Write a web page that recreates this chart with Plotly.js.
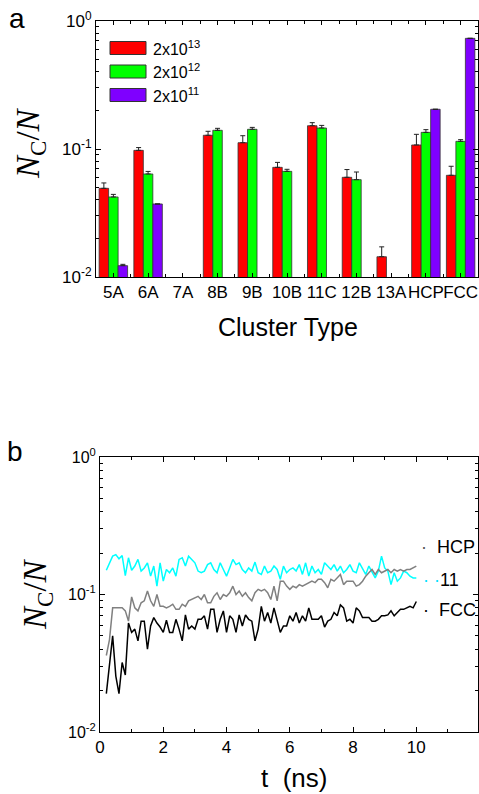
<!DOCTYPE html>
<html>
<head>
<meta charset="utf-8">
<script src="https://cdn.plot.ly/plotly-3.0.1.min.js"></script>
<style>html,body{margin:0;padding:0;background:#fff;}#chart{width:479px;height:794px;}</style>
</head>
<body>
<div id="chart"></div>
<script>
// ---- Panel a data ----
const categories = ["5A","6A","7A","8B","9B","10B","11C","12B","13A","HCP","FCC"];
const seriesNames = ["2x10<sup>13</sup>","2x10<sup>12</sup>","2x10<sup>11</sup>"];
const rate13 = [0.0493, 0.0976, null, 0.128, 0.112, 0.0719, 0.152, 0.0601, 0.0144, 0.1075, 0.0623];
const err13  = [0.0050, 0.0050, null, 0.0095, 0.015, 0.0067, 0.0086, 0.009, 0.0028, 0.0227, 0.011];
const rate12 = [0.0422, 0.0638, null, 0.140, 0.1425, 0.0669, 0.1459, 0.0576, null, 0.1349, 0.1148];
const err12  = [0.0020, 0.0030, null, 0.005, 0.005, 0.0025, 0.007, 0.0085, null, 0.0067, 0.0035];
const rate11 = [0.01226, 0.0372, null, null, null, null, null, null, null, 0.2043, 0.732];
const err11  = [0.0003, 0.0, null, null, null, null, null, null, null, 0.0, 0.0];
const yTickVals = [0.01, 0.1, 1];
const yTickText = ["10<sup>-2</sup>", "10<sup>-1</sup>", "10<sup>0</sup>"];

// ---- Panel b data ----
const tNs = [0.2,0.3,0.4,0.5,0.6,0.7,0.8,0.9,1.0,1.1,1.2,1.3,1.4,1.5,1.6,1.7,1.8,1.9,2.0,2.1,2.2,2.3,2.4,2.5,2.6,2.7,2.8,2.9,3.0,3.1,3.2,3.3,3.4,3.5,3.6,3.7,3.8,3.9,4.0,4.1,4.2,4.3,4.4,4.5,4.6,4.7,4.8,4.9,5.0,5.1,5.2,5.3,5.4,5.5,5.6,5.7,5.8,5.9,6.0,6.1,6.2,6.3,6.4,6.5,6.6,6.7,6.8,6.9,7.0,7.1,7.2,7.3,7.4,7.5,7.6,7.7,7.8,7.9,8.0,8.1,8.2,8.3,8.4,8.5,8.6,8.7,8.8,8.9,9.0,9.1,9.2,9.3,9.4,9.5,9.6,9.7,9.8,9.9,10.0];
const cyanSeries = [0.150,0.170,0.190,0.195,0.182,0.192,0.137,0.185,0.150,0.161,0.180,0.148,0.156,0.170,0.136,0.161,0.115,0.170,0.125,0.152,0.144,0.156,0.136,0.180,0.185,0.161,0.190,0.180,0.170,0.148,0.144,0.148,0.165,0.170,0.152,0.144,0.170,0.152,0.136,0.156,0.180,0.165,0.170,0.152,0.144,0.156,0.148,0.172,0.144,0.140,0.161,0.144,0.148,0.161,0.152,0.129,0.161,0.144,0.152,0.156,0.148,0.165,0.140,0.170,0.136,0.161,0.144,0.152,0.140,0.170,0.161,0.152,0.165,0.148,0.161,0.144,0.152,0.165,0.148,0.144,0.170,0.156,0.140,0.161,0.144,0.132,0.148,0.190,0.156,0.148,0.118,0.144,0.125,0.132,0.148,0.144,0.136,0.132,0.132];
const graySeries = [0.036,0.047,0.080,0.080,0.079,0.080,0.076,0.064,0.096,0.080,0.076,0.087,0.090,0.106,0.090,0.082,0.100,0.082,0.082,0.080,0.082,0.085,0.078,0.078,0.085,0.082,0.090,0.092,0.095,0.097,0.092,0.100,0.087,0.087,0.097,0.103,0.092,0.100,0.097,0.103,0.115,0.100,0.106,0.097,0.103,0.095,0.090,0.103,0.109,0.106,0.109,0.103,0.092,0.115,0.090,0.125,0.125,0.115,0.109,0.115,0.112,0.118,0.115,0.118,0.122,0.125,0.122,0.129,0.129,0.122,0.112,0.129,0.125,0.132,0.140,0.118,0.125,0.125,0.125,0.115,0.118,0.125,0.136,0.144,0.152,0.140,0.152,0.144,0.148,0.152,0.144,0.152,0.148,0.152,0.148,0.152,0.152,0.156,0.161];
const blackSeries = [0.019,0.032,0.050,0.0255,0.019,0.032,0.026,0.062,0.053,0.056,0.046,0.064,0.064,0.040,0.059,0.068,0.062,0.058,0.053,0.065,0.053,0.053,0.066,0.056,0.046,0.071,0.056,0.059,0.056,0.066,0.066,0.070,0.056,0.078,0.078,0.053,0.066,0.076,0.053,0.070,0.066,0.053,0.071,0.059,0.071,0.066,0.064,0.046,0.056,0.082,0.064,0.074,0.062,0.080,0.064,0.053,0.059,0.059,0.070,0.064,0.074,0.062,0.070,0.064,0.080,0.066,0.066,0.066,0.070,0.058,0.064,0.066,0.074,0.070,0.084,0.080,0.064,0.066,0.062,0.080,0.076,0.068,0.068,0.068,0.064,0.064,0.066,0.070,0.070,0.071,0.076,0.070,0.074,0.078,0.078,0.080,0.082,0.080,0.089];
const xTickVals = [0,2,4,6,8,10];
const legendColors = ["#ff0000", "#00ff00", "#7f00ff"];

const FONT = "Arial";
const SERIF = "Liberation Serif";
const minorLog = [];
[0.01, 0.1].forEach(d => { for (let k = 2; k <= 9; k++) minorLog.push(+(d*k).toFixed(4)); });

function barTrace(vals, errs, color, name) {
  return {
    type: "bar", name: name, xaxis: "x", yaxis: "y",
    x: categories.map((c, i) => i), y: vals,
    marker: {color: color, line: {color: "#333", width: 0.8}},
    error_y: {type: "data", symmetric: false, array: errs, arrayminus: errs.map(() => 0),
              color: "#222", thickness: 1, width: 2.5},
    showlegend: false
  };
}

const traces = [
  barTrace(rate13, err13, legendColors[0], seriesNames[0]),
  barTrace(rate12, err12, legendColors[1], seriesNames[1]),
  barTrace(rate11, err11, legendColors[2], seriesNames[2]),
  {type: "scatter", mode: "lines", x: tNs, y: cyanSeries, xaxis: "x2", yaxis: "y2",
   line: {color: "#00ffff", width: 1.5}, showlegend: false},
  {type: "scatter", mode: "lines", x: tNs, y: graySeries, xaxis: "x2", yaxis: "y2",
   line: {color: "#808080", width: 1.5}, showlegend: false},
  {type: "scatter", mode: "lines", x: tNs, y: blackSeries, xaxis: "x2", yaxis: "y2",
   line: {color: "#000000", width: 1.5}, showlegend: false}
];

const W = 479, H = 794;
const px = v => v / W, py = v => 1 - v / H;

const commonAxis = {
  showline: true, linecolor: "#000", linewidth: 1, mirror: "allticks",
  ticks: "inside", tickcolor: "#000", showgrid: false, zeroline: false,
  tickfont: {family: FONT, size: 16, color: "#000"}
};

function ann(x, y, text, size, extra) {
  return Object.assign({xref: "paper", yref: "paper", x: px(x), y: py(y), text: text,
    showarrow: false, xanchor: "center", yanchor: "middle",
    font: {family: FONT, size: size, color: "#000"}}, extra || {});
}

const shapes = [];
const annotations = [];
// custom legend
seriesNames.forEach((n, i) => {
  const yc = 48 + i * 23.5;
  shapes.push({type: "rect", xref: "paper", yref: "paper",
    x0: px(110), x1: px(146), y0: py(yc - 6.5), y1: py(yc + 6.5),
    fillcolor: legendColors[i], line: {color: "#333", width: 1}});
  annotations.push(ann(151, yc, n, 16, {xanchor: "left"}));
});
annotations.push(
  ann(17, 19, "a", 28),
  ann(15, 451, "b", 28),
  ann(31, 143, "<i>N</i><sub>C</sub>/<i>N</i>", 33, {textangle: -90, font: {family: SERIF, size: 33, color: "#000"}}),
  ann(37, 594, "<i>N</i><sub>C</sub>/<i>N</i>", 33, {textangle: -90, font: {family: SERIF, size: 33, color: "#000"}}),
  ann(288, 327, "Cluster Type", 25),
  ann(294, 794, "t&nbsp;&nbsp;(ns)", 26, {yanchor: "bottom", borderpad: 0}),
  ann(419, 547, "<span style='color:#555'>·</span>&nbsp;&nbsp;HCP", 18, {xanchor: "left"}),
  ann(421, 580, "<span style='color:#00e0ff'>· ·</span>11", 18, {xanchor: "left"}),
  ann(421, 610, "·&nbsp;&nbsp;FCC", 18, {xanchor: "left"})
);

const layout = {
  width: W, height: H, margin: {l: 0, r: 0, t: 0, b: 0},
  paper_bgcolor: "#fff", plot_bgcolor: "#fff",
  font: {family: FONT, color: "#000"},
  barmode: "group", bargap: 0.18, bargroupgap: 0,
  xaxis: Object.assign({}, commonAxis, {
    domain: [px(96), px(478)], anchor: "y", range: [-0.5, 10.5],
    tickmode: "array", tickvals: categories.map((c, i) => i), ticktext: categories, ticklen: 4,
    tickangle: 0, tickfont: {family: FONT, size: 17, color: "#000"},
    minor: {tickmode: "array", tickvals: categories.map((c, i) => i + 0.5), ticks: "inside", ticklen: 3, tickcolor: "#000"}
  }),
  yaxis: Object.assign({}, commonAxis, {
    domain: [py(277), py(21)], anchor: "x", type: "log", range: [-2, 0],
    tickmode: "array", tickvals: yTickVals, ticktext: yTickText, ticklen: 5,
    tickfont: {family: FONT, size: 17, color: "#000"},
    minor: {tickmode: "array", tickvals: minorLog, ticks: "inside", ticklen: 3, tickcolor: "#000"}
  }),
  xaxis2: Object.assign({}, commonAxis, {
    domain: [px(100), px(478)], anchor: "y2", range: [0, 11.95],
    tickmode: "array", tickvals: xTickVals, ticklen: 5, tickangle: 0,
    tickfont: {family: FONT, size: 17, color: "#000"},
    minor: {tickmode: "array", tickvals: [1,3,5,7,9,11], ticks: "inside", ticklen: 3, tickcolor: "#000"}
  }),
  yaxis2: Object.assign({}, commonAxis, {
    domain: [py(732), py(457)], anchor: "x2", type: "log", range: [-2, 0],
    tickmode: "array", tickvals: yTickVals, ticktext: yTickText, ticklen: 5,
    minor: {tickmode: "array", tickvals: minorLog, ticks: "inside", ticklen: 3, tickcolor: "#000"}
  }),
  shapes: shapes,
  annotations: annotations
};

Plotly.newPlot("chart", traces, layout, {staticPlot: true, displayModeBar: false});
</script>
</body>
</html>
